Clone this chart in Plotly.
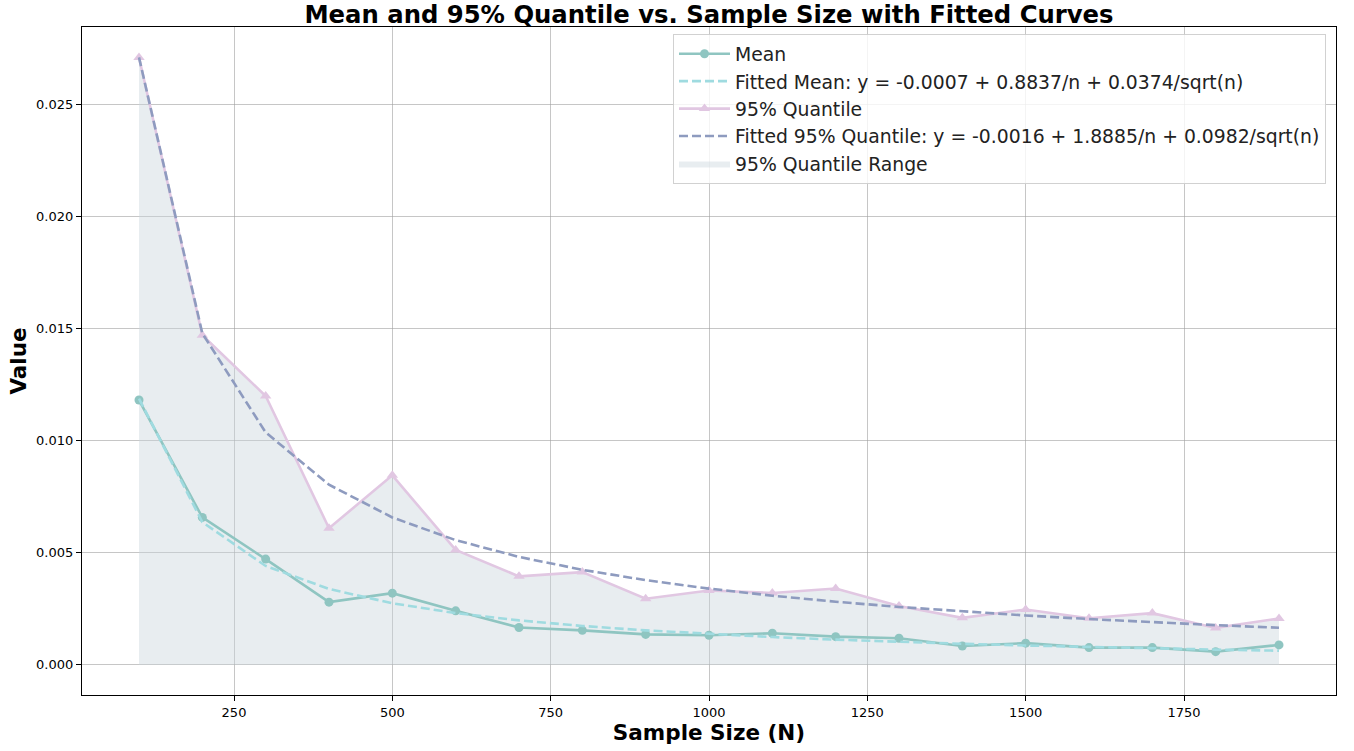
import plotly.graph_objects as go

sample_sizes = [100, 200, 300, 400, 500, 600, 700, 800, 900, 1000,
                1100, 1200, 1300, 1400, 1500, 1600, 1700, 1800, 1900]
mean_vals = [0.01181, 0.00657, 0.00471, 0.00279, 0.00319, 0.00240, 0.00166, 0.00153,
             0.00135, 0.00131, 0.00140, 0.00125, 0.00118, 0.00083, 0.00096, 0.00076,
             0.00076, 0.00058, 0.00088]
fitted_mean = [0.011877, 0.006363, 0.004405, 0.003379, 0.002740, 0.002300, 0.001976,
               0.001727, 0.001529, 0.001366, 0.001231, 0.001116, 0.001017, 0.000931,
               0.000855, 0.000787, 0.000727, 0.000672, 0.000623]
quantile_vals = [0.02710, 0.01470, 0.01199, 0.00609, 0.00845, 0.00512, 0.00394, 0.00413,
                 0.00294, 0.00331, 0.00320, 0.00340, 0.00262, 0.00209, 0.00246, 0.00207,
                 0.00230, 0.00164, 0.00206]
fitted_quantile = [0.027105, 0.014786, 0.010365, 0.008031, 0.006569, 0.005557, 0.004809,
                   0.004233, 0.003772, 0.003394, 0.003078, 0.002809, 0.002576, 0.002373,
                   0.002195, 0.002035, 0.001893, 0.001764, 0.001647]

x_ticks = [250, 500, 750, 1000, 1250, 1500, 1750]
y_ticks = [0.000, 0.005, 0.010, 0.015, 0.020, 0.025]

FONT = "DejaVu Sans"
C_MEAN = "#8fc5c1"
C_FMEAN = "#9fdbe0"
C_Q = "#e1c7e2"
C_FQ = "#8e9bbf"
C_FILL = "rgba(200,212,220,0.42)"

fig = go.Figure()

fig.add_trace(go.Scatter(
    x=sample_sizes, y=quantile_vals, mode="lines", fill="tozeroy",
    fillcolor=C_FILL, line=dict(width=0, color=C_FILL),
    name="95% Quantile Range", legendrank=5, legendgroup="e"))

fig.add_trace(go.Scatter(
    x=sample_sizes, y=mean_vals, mode="lines+markers",
    line=dict(color=C_MEAN, width=2.6),
    marker=dict(symbol="circle", size=9, color=C_MEAN),
    name="Mean", legendrank=1, legendgroup="a"))

fig.add_trace(go.Scatter(
    x=sample_sizes, y=fitted_mean, mode="lines",
    line=dict(color=C_FMEAN, width=2.6, dash="9px,4px"),
    name="Fitted Mean: y = -0.0007 + 0.8837/n + 0.0374/sqrt(n)", legendrank=2, legendgroup="b"))

fig.add_trace(go.Scatter(
    x=sample_sizes, y=quantile_vals, mode="lines+markers",
    line=dict(color=C_Q, width=2.6),
    marker=dict(symbol="triangle-up", size=10, color=C_Q),
    name="95% Quantile", legendrank=3, legendgroup="c"))

fig.add_trace(go.Scatter(
    x=sample_sizes, y=fitted_quantile, mode="lines",
    line=dict(color=C_FQ, width=2.6, dash="9px,4px"),
    name="Fitted 95% Quantile: y = -0.0016 + 1.8885/n + 0.0982/sqrt(n)", legendrank=4, legendgroup="d"))

axis_common = dict(
    showline=True, linecolor="black", linewidth=1.2, mirror=True,
    showgrid=True, gridcolor="rgba(160,160,160,0.6)", gridwidth=1,
    ticks="outside", ticklen=5, tickcolor="black", tickwidth=1,
    tickfont=dict(family=FONT, size=13, color="black"),
    zeroline=False, automargin=False,
)

fig.update_xaxes(
    range=[10, 1990], tickvals=x_ticks, ticktext=[str(v) for v in x_ticks],
    title=dict(text="<b>Sample Size (N)</b>", font=dict(family=FONT, size=21.5, color="black"), standoff=6),
    **axis_common)
fig.update_yaxes(
    range=[-0.001355, 0.02846], tickvals=y_ticks, ticktext=[f"{v:.3f}" for v in y_ticks],
    title=dict(text="<b>Value</b>", font=dict(family=FONT, size=21.5, color="black"), standoff=3),
    **axis_common)

fig.update_layout(
    width=1354, height=751,
    margin=dict(l=82, r=18, t=27, b=56),
    paper_bgcolor="white", plot_bgcolor="white",
    title=dict(text="<b>Mean and 95% Quantile vs. Sample Size with Fitted Curves</b>",
               font=dict(family=FONT, size=24.3, color="black"),
               x=709 / 1354, xanchor="center",
               y=1 - 14.5 / 751, yanchor="middle", yref="container"),
    legend=dict(x=(1326 - 82) / 1254, y=(695 - 34) / 668, xanchor="right", yanchor="top",
                bgcolor="rgba(255,255,255,0.8)", bordercolor="rgba(204,204,204,0.9)",
                borderwidth=1, font=dict(family=FONT, size=18.8, color="#222"),
                itemwidth=51, tracegroupgap=0, traceorder="grouped"),
    showlegend=True,
)

fig.write_html("out.html", post_script="document.body.style.margin='0';",
               config={"displayModeBar": False})
